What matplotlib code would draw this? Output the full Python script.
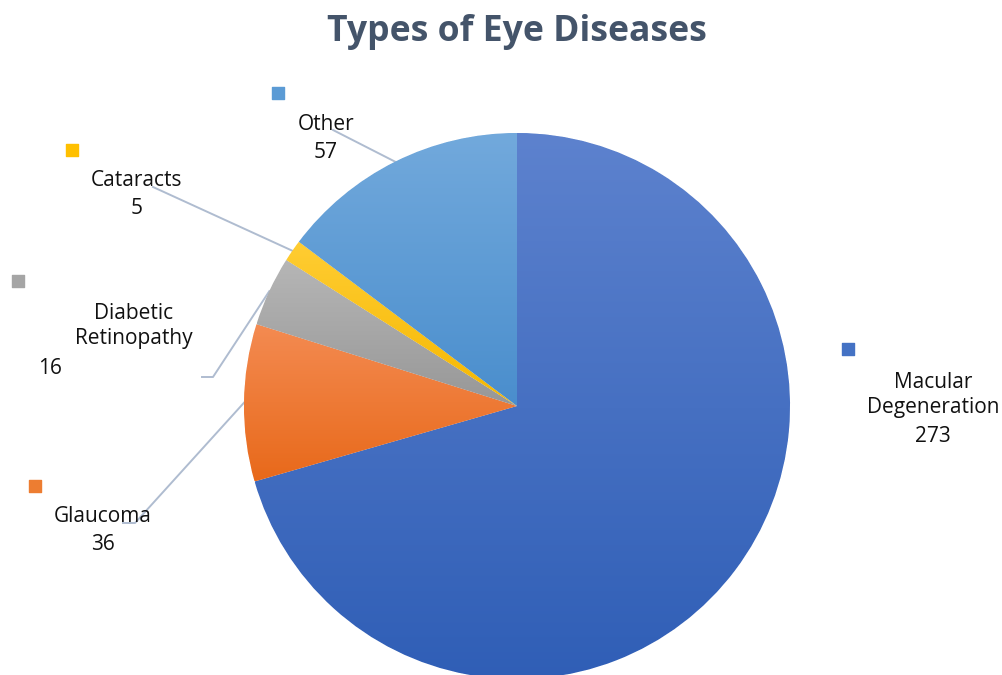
import numpy as np
import matplotlib
matplotlib.use("Agg")
from matplotlib import pyplot as plt
from matplotlib.colors import LinearSegmentedColormap

# chart data
categories = ["Macular\nDegeneration", "Glaucoma", "Diabetic\nRetinopathy", "Cataracts", "Other"]
values = [273, 36, 16, 5, 57]
# gradient colours per slice: (top, bottom)
top_colors = ["#5D82CE", "#F48B52", "#B6B6B6", "#FFCD33", "#72A9DC"]
bottom_colors = ["#2F5EB6", "#E8691A", "#979797", "#F5B700", "#4A8ECD"]
key_colors = ["#4472C4", "#ED7D31", "#A5A5A5", "#FFC000", "#5B9BD5"]

W, H = 1003, 675
plt.rcParams['font.family'] = ['Open Sans', 'DejaVu Sans']


def px(x, y):
    # pixel position (top-left origin) -> data coords (y up)
    return x, H - y


fig = plt.figure(figsize=(W / 100, H / 100), dpi=100)
ax = fig.add_axes([0, 0, 1, 1])

cx, cy = px(517, 406)
radius = 273
wedges, _ = ax.pie(values, startangle=90, counterclock=False, center=(cx, cy),
                   radius=radius, frame=True,
                   wedgeprops=dict(edgecolor="white", linewidth=0.6))
ax.set_aspect("equal")
ax.axis("off")

# vertical gradient fill inside every wedge
grad = np.linspace(0, 1, 256).reshape(-1, 1)
for w, c_top, c_bot in zip(wedges, top_colors, bottom_colors):
    w.set_facecolor(c_bot)
    verts = w.get_patch_transform().transform(w.get_path().vertices)
    x0, y0 = verts.min(axis=0)
    x1, y1 = verts.max(axis=0)
    cmap = LinearSegmentedColormap.from_list("g", [c_bot, c_top])
    im = ax.imshow(grad, cmap=cmap, extent=[x0, x1, y0, y1], origin="lower",
                   aspect="auto", interpolation="bilinear", zorder=w.get_zorder() + 0.1)
    im.set_clip_path(w)

ax.set_xlim(0, W)
ax.set_ylim(0, H)

# title
tx, ty = px(517, 32)
ax.text(tx, ty, "Types of Eye Diseases", ha="center", va="center",
        fontsize=25.6, fontweight="bold", color="#44546A")

# label layout: key square, text centre, value centre, leader anchor
label_layout = [
    dict(key=(848, 349), text=(933, 395), val=(933, 437), anchor=None),
    dict(key=(35, 486), text=(103, 517), val=(103, 545), anchor=[(123, 523), (135, 523)]),
    dict(key=(18, 281), text=(134, 326), val=(50, 369), anchor=[(202, 377), (213, 377)]),
    dict(key=(72, 150), text=(137, 180), val=(137, 209), anchor=[(153, 187)]),
    dict(key=(278, 93), text=(326, 124), val=(326, 153), anchor=[(333, 130)]),
]

lead_color = "#AFBCD0"
for w, name, v, lay, kc in zip(wedges, categories, values, label_layout, key_colors):
    kx, ky = px(*lay["key"])
    ax.scatter([kx], [ky], marker="s", s=80, color=kc, zorder=5)
    x, y = px(*lay["text"])
    ax.text(x, y, name, ha="center", va="center", fontsize=15,
            color="#111111", linespacing=1.3)
    x, y = px(*lay["val"])
    ax.text(x, y, str(v), ha="center", va="center", fontsize=15, color="#111111")
    if lay["anchor"] is not None:
        mid = np.deg2rad((w.theta1 + w.theta2) / 2)
        ex = cx + radius * np.cos(mid)
        ey = cy + radius * np.sin(mid)
        pts = [px(*p) for p in lay["anchor"]] + [(ex, ey)]
        xs, ys = zip(*pts)
        ax.plot(xs, ys, color=lead_color, lw=1.4, zorder=1)

fig.savefig("out.png", dpi=100)
